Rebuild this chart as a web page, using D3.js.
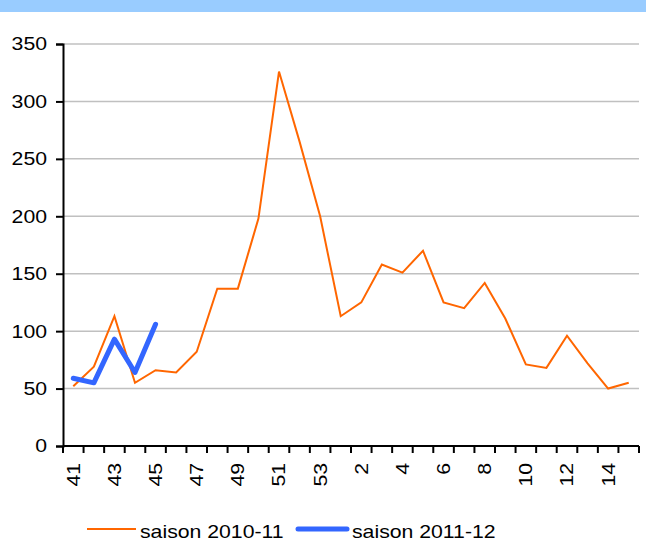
<!DOCTYPE html>
<html>
<head>
<meta charset="utf-8">
<script src="https://cdn.jsdelivr.net/npm/d3@7"></script>
<style>
  body { margin: 0; background: #fff; }
  text { font-family: "Liberation Sans", Arial, sans-serif; fill: #000; }
</style>
</head>
<body>
<script>
const weeks = ['41','42','43','44','45','46','47','48','49','50','51','52','53',
  '1','2','3','4','5','6','7','8','9','10','11','12','13','14','15'];
const season1011 = [52, 69, 113, 55, 66, 64, 82, 137, 137, 198, 326, 265, 200,
  113, 125, 158, 151, 170, 125, 120, 142, 111, 71, 68, 96, 72, 50, 55];
const season1112 = [59, 55, 93, 64, 106];
const yTicks = [0, 50, 100, 150, 200, 250, 300, 350];
const seriesNames = ['saison 2010-11', 'saison 2011-12'];

const width = 646, height = 543;
const margin = { top: 44, right: 7, bottom: 97, left: 63 };
const stretch = 1.18; // text in the reference is drawn a bit wide

const svg = d3.select('body').append('svg')
  .attr('width', width)
  .attr('height', height);

svg.append('rect')
  .attr('x', 0).attr('y', 0)
  .attr('width', width).attr('height', 12)
  .attr('fill', '#99CCFF');

const x = d3.scaleBand()
  .domain(weeks)
  .range([margin.left, width - margin.right]);

const y = d3.scaleLinear()
  .domain([0, 350])
  .range([height - margin.bottom, margin.top]);

// grid
svg.append('g')
  .selectAll('line')
  .data(yTicks.filter(d => d > 0))
  .join('line')
  .attr('x1', margin.left)
  .attr('x2', width - margin.right)
  .attr('y1', d => y(d))
  .attr('y2', d => y(d))
  .attr('stroke', '#C0C0C0')
  .attr('stroke-width', 1.5);

// y axis, labels drawn by hand so they can be stretched
const yAxis = svg.append('g')
  .attr('transform', `translate(${margin.left},0)`)
  .call(d3.axisLeft(y).tickValues(yTicks).tickSize(7).tickFormat(''));
yAxis.select('.domain').attr('stroke', '#000').attr('stroke-width', 2);
yAxis.selectAll('.tick line').attr('stroke', '#000').attr('stroke-width', 2);

svg.append('g')
  .selectAll('text')
  .data(yTicks)
  .join('text')
  .attr('transform', d => `translate(47,${y(d)}) scale(${stretch},1)`)
  .attr('text-anchor', 'end')
  .attr('dy', '0.36em')
  .style('font-size', '18px')
  .text(d => d);

// x axis: ticks at category boundaries
const xg = svg.append('g')
  .attr('transform', `translate(0,${y(0)})`);
xg.append('line')
  .attr('x1', margin.left).attr('x2', width - margin.right)
  .attr('stroke', '#000').attr('stroke-width', 2);
const bounds = weeks.map(w => x(w)).concat([x(weeks[weeks.length - 1]) + x.bandwidth()]);
xg.selectAll('.xt')
  .data(bounds)
  .join('line')
  .attr('class', 'xt')
  .attr('x1', d => d).attr('x2', d => d)
  .attr('y1', 0).attr('y2', 7)
  .attr('stroke', '#000').attr('stroke-width', 2);
xg.selectAll('.xl')
  .data(weeks.filter((w, i) => i % 2 === 0))
  .join('text')
  .attr('class', 'xl')
  .attr('transform', d => `translate(${x(d) + x.bandwidth() / 2},17) rotate(-90) scale(${stretch},1)`)
  .attr('text-anchor', 'end')
  .attr('dy', '0.36em')
  .style('font-size', '18px')
  .text(d => d);

const line = d3.line()
  .x((d, i) => x(weeks[i]) + x.bandwidth() / 2)
  .y(d => y(d));

svg.append('path')
  .datum(season1011)
  .attr('fill', 'none')
  .attr('stroke', '#FF6600')
  .attr('stroke-width', 2)
  .attr('d', line);

svg.append('path')
  .datum(season1112)
  .attr('fill', 'none')
  .attr('stroke', '#3366FF')
  .attr('stroke-width', 5)
  .attr('stroke-linecap', 'round')
  .attr('stroke-linejoin', 'round')
  .attr('d', line);

// legend
const legend = svg.append('g');
const legendItems = [
  { name: seriesNames[0], color: '#FF6600', w: 2, x1: 87, x2: 136, tx: 140 },
  { name: seriesNames[1], color: '#3366FF', w: 5, x1: 298, x2: 347, tx: 352 }
];
legendItems.forEach(d => {
  legend.append('line')
    .attr('x1', d.x1).attr('x2', d.x2)
    .attr('y1', 529).attr('y2', 529)
    .attr('stroke', d.color)
    .attr('stroke-width', d.w)
    .attr('stroke-linecap', d.w > 2 ? 'round' : 'butt');
  legend.append('text')
    .attr('transform', `translate(${d.tx},537.5) scale(${stretch},1)`)
    .style('font-size', '18px')
    .text(d.name);
});
</script>
</body>
</html>
